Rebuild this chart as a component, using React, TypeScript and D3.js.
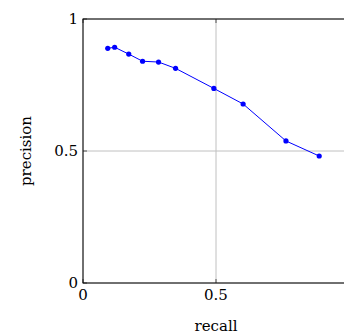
import React from "react";
import * as d3 from "d3";

const recall = [0.093, 0.119, 0.172, 0.224, 0.284, 0.348, 0.492, 0.602, 0.763, 0.888];
const precision = [0.889, 0.893, 0.867, 0.84, 0.837, 0.813, 0.737, 0.678, 0.538, 0.481];
const xTicks = [0, 0.5, 1];
const yTicks = [0, 0.5, 1];
const xTickLabels = ["0", "0.5"];
const yTickLabels = ["0", "0.5", "1"];

const W = 344;
const H = 334;
const left = 83;
const top = 19;
const plotW = 266;
const plotH = 264;
const font = "'DejaVu Serif', serif";

export default function App() {
  const x = d3.scaleLinear().domain([0, 1]).range([left, left + plotW]);
  const y = d3.scaleLinear().domain([0, 1]).range([top + plotH, top]);
  const pts = recall.map((r, i) => [x(r), y(precision[i])] as [number, number]);
  const line = d3.line()(pts) || "";
  return (
    <svg width={W} height={H} style={{ position: "absolute", left: 0, top: 0 }}>
      <rect width={W} height={H} fill="#fff" />
      {xTicks.map((t) => (
        <line key={"gx" + t} x1={x(t)} x2={x(t)} y1={top} y2={top + plotH} stroke="#c0c0c0" strokeWidth={1} />
      ))}
      {yTicks.map((t) => (
        <line key={"gy" + t} x1={left} x2={left + plotW} y1={y(t)} y2={y(t)} stroke="#c0c0c0" strokeWidth={1} />
      ))}
      {xTicks.map((t) => (
        <g key={"tx" + t}>
          <line x1={x(t)} x2={x(t)} y1={top + plotH} y2={top + plotH - 4} stroke="#555" strokeWidth={1} />
          <line x1={x(t)} x2={x(t)} y1={top} y2={top + 4} stroke="#555" strokeWidth={1} />
        </g>
      ))}
      {yTicks.map((t) => (
        <g key={"ty" + t}>
          <line x1={left} x2={left + 4} y1={y(t)} y2={y(t)} stroke="#555" strokeWidth={1} />
          <line x1={left + plotW} x2={left + plotW - 4} y1={y(t)} y2={y(t)} stroke="#555" strokeWidth={1} />
        </g>
      ))}
      <rect x={left} y={top} width={plotW} height={plotH} fill="none" stroke="#000" strokeWidth={1} />
      <path d={line} fill="none" stroke="#0000ff" strokeWidth={1} />
      {pts.map((p, i) => (
        <circle key={i} cx={p[0]} cy={p[1]} r={2.6} fill="#0000ff" />
      ))}
      {xTickLabels.map((lab, i) => (
        <text key={"lx" + i} x={x(xTicks[i])} y={top + plotH + 17} textAnchor="middle" fontFamily={font} fontSize={15} fill="#000">
          {lab}
        </text>
      ))}
      {yTicks.map((t, i) => (
        <text key={"ly" + t} x={left - 5} y={y(t) + 5} textAnchor="end" fontFamily={font} fontSize={15} fill="#000">
          {yTickLabels[i]}
        </text>
      ))}
      <text x={x(0.5)} y={331} textAnchor="middle" fontFamily={font} fontSize={15} fill="#000">
        recall
      </text>
      <text
        transform={`translate(${31},${y(0.5)}) rotate(-90)`}
        textAnchor="middle"
        fontFamily={font}
        fontSize={15}
        fill="#000"
      >
        precision
      </text>
    </svg>
  );
}
